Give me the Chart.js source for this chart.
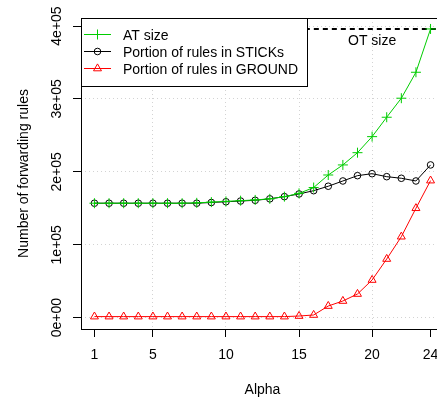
<!DOCTYPE html>
<html>
<head>
<meta charset="utf-8">
<script src="https://cdn.jsdelivr.net/npm/chart.js@4.4.1/dist/chart.umd.min.js"></script>
<style>
  html, body { margin: 0; padding: 0; background: #fff; overflow: hidden; }
  #wrap { position: absolute; left: 0; top: 0; width: 450px; height: 398px; }
</style>
</head>
<body>
<div id="wrap"><canvas id="c" width="450" height="398"></canvas></div>
<script>
// ---- data ----
const alpha = [1,2,3,4,5,6,7,8,9,10,11,12,13,14,15,16,17,18,19,20,21,22,23,24];
const atSize = [157000,157000,157000,157000,157000,157000,157000,157500,158500,159500,160500,161500,163000,166000,170500,178500,195700,209500,226300,248300,274900,301000,336600,396000];
const sticks = [157000,157000,157000,157000,157000,157000,157000,157000,158000,159000,160000,161000,163000,166000,169700,174200,180300,187500,194800,197500,193400,191200,187500,209500];
const ground = [1500,1500,1500,1500,1500,1500,1500,1500,1500,1500,1500,1500,1500,1500,2300,3700,16000,22900,32500,51700,80500,111100,150100,188000];
const otSize = 396000;
const otLineX = [0, 25];
const otLabelX = 20;
const otLabelY = 379000;
const xTicks = [1, 5, 10, 15, 20, 24];
const xGrid = [5, 10, 15, 20];
const yTicks = [0, 100000, 200000, 300000, 400000];
const yTickLabels = ["0e+00", "1e+05", "2e+05", "3e+05", "4e+05"];
const seriesNames = ["AT size", "Portion of rules in STICKs", "Portion of rules in GROUND"];
const xTitle = "Alpha";
const yTitle = "Number of forwarding rules";

const GREEN = '#00cd00';
const RED = '#ff0000';
const BLACK = '#000000';
const FONT = "14px 'Liberation Sans', Arial, Helvetica, sans-serif";

function pts(ys) { return alpha.map((a, i) => ({x: a, y: ys[i]})); }

function drawMarker(ctx, style, x, y, color) {
  ctx.save();
  ctx.strokeStyle = color;
  ctx.lineWidth = 1;
  ctx.beginPath();
  if (style === 'cross') {
    ctx.moveTo(x - 5, y); ctx.lineTo(x + 5, y);
    ctx.moveTo(x, y - 5); ctx.lineTo(x, y + 5);
  } else if (style === 'circle') {
    ctx.arc(x, y, 3.3, 0, Math.PI * 2);
  } else if (style === 'triangle') {
    const r = 4.6;
    ctx.moveTo(x, y - r);
    ctx.lineTo(x + r * Math.sin(2 * Math.PI / 3), y - r * Math.cos(2 * Math.PI / 3));
    ctx.lineTo(x + r * Math.sin(4 * Math.PI / 3), y - r * Math.cos(4 * Math.PI / 3));
    ctx.closePath();
  }
  ctx.stroke();
  ctx.restore();
}

const decor = {
  id: 'decor',
  afterDraw(chart) {
    const ctx = chart.ctx;
    const ca = chart.chartArea;
    const xs = chart.scales.x, ys = chart.scales.y;
    ctx.save();
    // legend box
    const lx = ca.left, ly = ca.top, lw = 226, lh = 68;
    ctx.fillStyle = '#fff';
    ctx.fillRect(lx, ly, lw, lh);
    ctx.strokeStyle = '#000';
    ctx.lineWidth = 1;
    ctx.strokeRect(lx + 0.5, ly + 0.5, lw, lh);
    const cols = [GREEN, BLACK, RED];
    const marks = ['cross', 'circle', 'triangle'];
    ctx.font = FONT;
    ctx.textAlign = 'left';
    ctx.textBaseline = 'alphabetic';
    for (let i = 0; i < 3; i++) {
      const yy = ly + 16.5 + i * 17;
      ctx.strokeStyle = cols[i];
      ctx.lineWidth = 1;
      ctx.beginPath();
      ctx.moveTo(lx + 3, yy); ctx.lineTo(lx + 30, yy);
      ctx.stroke();
      drawMarker(ctx, marks[i], lx + 16.5, yy, cols[i]);
      ctx.fillStyle = '#000';
      ctx.fillText(seriesNames[i], lx + 42, yy + 5);
    }
    // OT label
    ctx.fillStyle = '#000';
    ctx.textAlign = 'center';
    ctx.textBaseline = 'middle';
    ctx.fillText('OT size', xs.getPixelForValue(otLabelX), ys.getPixelForValue(otLabelY));
    // plot box
    ctx.strokeStyle = '#000';
    ctx.lineWidth = 1;
    ctx.strokeRect(ca.left + 0.5, ca.top + 0.5, ca.right - ca.left, ca.bottom - ca.top);
    // y tick labels (rotated as in the original)
    ctx.textAlign = 'center';
    ctx.textBaseline = 'alphabetic';
    yTicks.forEach((v, i) => {
      ctx.save();
      ctx.translate(61, ys.getPixelForValue(v));
      ctx.rotate(-Math.PI / 2);
      ctx.fillText(yTickLabels[i], 0, 0);
      ctx.restore();
    });
    // axis titles
    ctx.save();
    ctx.translate(28, (ca.top + ca.bottom) / 2);
    ctx.rotate(-Math.PI / 2);
    ctx.fillText(yTitle, 0, 0);
    ctx.restore();
    ctx.fillText(xTitle, (ca.left + ca.right) / 2, 394);
    ctx.restore();
  }
};

new Chart(document.getElementById('c'), {
  type: 'scatter',
  data: {
    datasets: [
      { label: seriesNames[0], data: pts(atSize), showLine: true, borderColor: GREEN, borderWidth: 1,
        pointStyle: 'cross', pointRadius: 5, pointBorderColor: GREEN, pointBorderWidth: 1,
        pointBackgroundColor: 'transparent', order: 0 },
      { label: seriesNames[1], data: pts(sticks), showLine: true, borderColor: BLACK, borderWidth: 1,
        pointStyle: 'circle', pointRadius: 3.3, pointBorderColor: BLACK, pointBorderWidth: 1,
        pointBackgroundColor: 'transparent', order: 1 },
      { label: seriesNames[2], data: pts(ground), showLine: true, borderColor: RED, borderWidth: 1,
        pointStyle: 'triangle', pointRadius: 4.6, pointBorderColor: RED, pointBorderWidth: 1,
        pointBackgroundColor: 'transparent', order: 2 },
      { label: 'OT', data: otLineX.map(x => ({x: x, y: otSize})), showLine: true, borderColor: BLACK,
        borderWidth: 2, borderDash: [5, 4], pointRadius: 0, order: 3 }
    ]
  },
  options: {
    responsive: false,
    devicePixelRatio: 1,
    animation: false,
    events: [],
    layout: { padding: { top: 18, right: 6, left: 0, bottom: 0 } },
    plugins: { legend: { display: false }, tooltip: { enabled: false } },
    scales: {
      x: {
        type: 'linear', min: 0.08, max: 24.92,
        afterBuildTicks: s => { s.ticks = xTicks.map(v => ({value: v})); },
        afterFit: s => { s.height = 69; },
        grid: {
          color: c => (c.tick && xGrid.includes(c.tick.value)) ? '#d3d3d3' : 'rgba(0,0,0,0)',
          lineWidth: 1, drawTicks: true, tickLength: 8, tickColor: '#000', tickWidth: 1, tickBorderDash: []
        },
        border: { display: false, dash: [1, 3] },
        ticks: { color: '#000', font: { family: "'Liberation Sans', Arial, Helvetica, sans-serif", size: 14 },
                 padding: 10, maxRotation: 0, minRotation: 0, autoSkip: false,
                 callback: v => String(v) }
      },
      y: {
        type: 'linear', min: -15500, max: 411000,
        afterBuildTicks: s => { s.ticks = yTicks.map(v => ({value: v})); },
        afterFit: s => { s.width = 81; },
        grid: { color: '#d3d3d3', lineWidth: 1, drawTicks: true, tickLength: 8, tickColor: '#000', tickWidth: 1, tickBorderDash: [] },
        border: { display: false, dash: [1, 3] },
        ticks: { display: false }
      }
    }
  },
  plugins: [decor]
});
</script>
</body>
</html>
